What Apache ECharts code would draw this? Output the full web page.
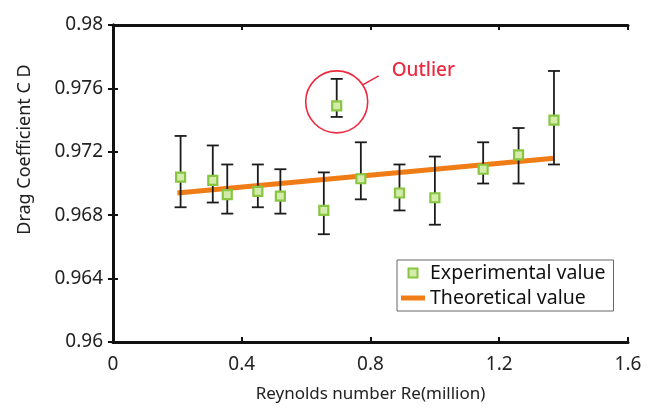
<!DOCTYPE html>
<html><head><meta charset="utf-8">
<script src="https://cdn.jsdelivr.net/npm/echarts@6/dist/echarts.min.js"></script>
<style>html,body{margin:0;padding:0;background:#fff}#c{width:656px;height:408px}</style>
</head><body><div id="c"></div>
<script>
// Experimental data (Reynolds number in million, drag coefficient)
const reynolds = [0.21, 0.31, 0.355, 0.45, 0.52, 0.655, 0.695, 0.77, 0.89, 1.0, 1.15, 1.26, 1.37];
const cdMean   = [0.9704, 0.9702, 0.9693, 0.9695, 0.9692, 0.9683, 0.9749, 0.9703, 0.9694, 0.9691, 0.9709, 0.9718, 0.9740];
const cdUpper  = [0.9730, 0.9724, 0.9712, 0.9712, 0.9709, 0.9707, 0.9766, 0.9726, 0.9712, 0.9717, 0.9726, 0.9735, 0.9771];
const cdLower  = [0.9685, 0.9688, 0.9681, 0.9685, 0.9681, 0.9668, 0.9742, 0.9690, 0.9683, 0.9674, 0.9700, 0.9700, 0.9712];
// Theoretical line
const theoryRe = [0.2, 1.37];
const theoryCd = [0.9694, 0.9716];
// Outlier
const outlierIndex = 6;
const outlierLabel = 'Outlier';
// Axes
const xMin = 0, xMax = 1.6, xStep = 0.4;
const yMin = 0.96, yMax = 0.98, yStep = 0.004;

const FONT = 'Noto Sans';
const TXT = '#222';

const scatterData = reynolds.map((x, i) => [x, cdMean[i]]);
const errData = reynolds.map((x, i) => [x, cdLower[i], cdUpper[i]]);
const theoryData = theoryRe.map((x, i) => [x, theoryCd[i]]);
const outlierData = [[reynolds[outlierIndex], cdMean[outlierIndex]]];

const fmtY = v => String(parseFloat(v.toFixed(3)));
const fmtX = v => String(parseFloat(v.toFixed(1)));

const axisLine = {show: true, lineStyle: {color: '#111', width: 3}};
const axisTick = {show: true, inside: true, length: 5, lineStyle: {color: '#111', width: 2}};

const chart = echarts.init(document.getElementById('c'), null, {renderer: 'canvas'});
chart.setOption({
  animation: false,
  backgroundColor: '#fff',
  textStyle: {fontFamily: FONT},
  grid: {left: 113, right: 28, top: 25, bottom: 65},
  legend: {
    orient: 'vertical',
    left: 397, top: 260,
    padding: [2, 8, 2, 4],
    itemGap: 3,
    itemWidth: 24, itemHeight: 9,
    borderColor: '#666', borderWidth: 1,
    textStyle: {fontFamily: FONT, fontSize: 19.5, lineHeight: 22, color: '#111', padding: [0, 0, 0, 0]},
    data: [
      {name: 'Experimental value', icon: 'path://M0,0H10V10H0Z'},
      {name: 'Theoretical value', icon: 'path://M0,0H24V5H0Z', itemStyle: {color: '#f07c16', borderWidth: 0}}
    ]
  },
  xAxis: [{
    type: 'value', min: xMin, max: xMax, interval: xStep, position: 'bottom',
    axisLine, axisTick, splitLine: {show: false},
    axisLabel: {margin: 13, fontSize: 19, color: TXT, formatter: fmtX, showMinLabel: true, showMaxLabel: true},
    name: 'Reynolds number Re(million)', nameLocation: 'middle', nameGap: 44,
    nameTextStyle: {fontSize: 17, color: TXT}
  }, {
    type: 'value', min: xMin, max: xMax, interval: xStep, position: 'top',
    axisLine, axisTick, splitLine: {show: false}, axisLabel: {show: false}
  }],
  yAxis: [{
    type: 'value', min: yMin, max: yMax, interval: yStep, position: 'left',
    axisLine, axisTick, splitLine: {show: false},
    axisLabel: {margin: 10, fontSize: 19, color: TXT, formatter: fmtY, showMinLabel: true, showMaxLabel: true},
    name: 'Drag Coefficient C D', nameLocation: 'middle', nameGap: 79,
    nameTextStyle: {fontSize: 18, color: TXT, padding: [0, 0, 0, 68]}
  }, {
    type: 'value', min: yMin, max: yMax, interval: yStep, position: 'right',
    axisLine, axisTick, splitLine: {show: false}, axisLabel: {show: false}
  }],
  series: [{
    name: 'Theoretical value', type: 'line', data: theoryData,
    symbol: 'none', z: 2,
    lineStyle: {color: '#f07c16', width: 5},
    itemStyle: {color: '#f07c16'}
  }, {
    name: 'errorbars', type: 'custom', data: errData, z: 3,
    renderItem(params, api) {
      const x = api.value(0);
      const pTop = api.coord([x, api.value(2)]);
      const pBot = api.coord([x, api.value(1)]);
      const w = 6;
      const style = {stroke: '#1c1c1c', lineWidth: 1.8, fill: null};
      return {type: 'group', children: [
        {type: 'line', shape: {x1: pTop[0], y1: pTop[1], x2: pBot[0], y2: pBot[1]}, style},
        {type: 'line', shape: {x1: pTop[0] - w, y1: pTop[1], x2: pTop[0] + w, y2: pTop[1]}, style},
        {type: 'line', shape: {x1: pBot[0] - w, y1: pBot[1], x2: pBot[0] + w, y2: pBot[1]}, style}
      ]};
    }
  }, {
    name: 'Experimental value', type: 'scatter', data: scatterData, z: 4,
    symbol: 'rect', symbolSize: 9,
    itemStyle: {color: '#d3ebab', borderColor: '#88c540', borderWidth: 2.2, opacity: 1}
  }, {
    name: 'outlier', type: 'custom', data: outlierData, z: 5, silent: true,
    renderItem(params, api) {
      const c = api.coord([api.value(0), api.value(1)]);
      const cx = c[0], cy = c[1] - 4, r = 31;
      const red = '#ec2a40';
      return {type: 'group', children: [
        {type: 'circle', shape: {cx, cy, r}, style: {stroke: red, lineWidth: 1.6, fill: null}},
        {type: 'line', shape: {x1: cx + 26, y1: cy - 17, x2: cx + 42, y2: cy - 26}, style: {stroke: red, lineWidth: 1.6}},
        {type: 'text', style: {text: outlierLabel, x: cx + 55, y: cy - 31, fill: red,
          font: '500 19px "' + FONT + '"', textVerticalAlign: 'middle', textAlign: 'left'}}
      ]};
    }
  }]
});
</script>
</body></html>
